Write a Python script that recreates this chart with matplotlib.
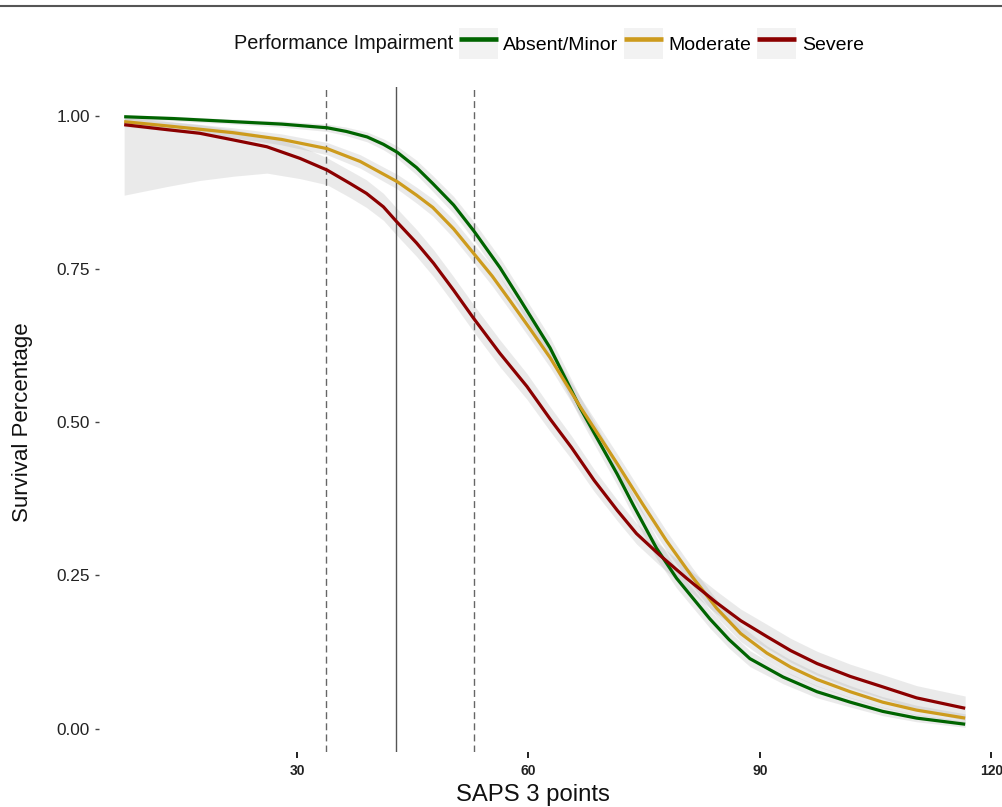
import matplotlib
matplotlib.use("Agg")
import matplotlib.pyplot as plt
from matplotlib.lines import Line2D
from matplotlib.patches import Rectangle
from matplotlib.legend_handler import HandlerTuple

plt.rcParams["font.family"] = ["Liberation Sans", "DejaVu Sans"]

# ── Data ──────────────────────────────────────────────────────────────
GROUPS = ["Absent/Minor", "Moderate", "Severe"]
COLORS = ["#006400", "#CD9B1D", "#8B0000"]

absent_x  = [7.6, 14.0, 21.7, 28.0, 33.9, 36.4, 39.1, 41.2, 43.0, 45.5, 47.6, 50.3, 52.9,
             56.3, 58.9, 62.8, 66.7, 71.5, 73.6, 76.6, 79.2, 83.5, 86.0, 88.7, 93.0,
             97.4, 101.7, 105.9, 110.3, 116.6]
absent_y  = [0.998, 0.995, 0.990, 0.986, 0.980, 0.974, 0.965, 0.953, 0.940, 0.915, 0.889,
             0.854, 0.812, 0.752, 0.700, 0.621, 0.523, 0.415, 0.364, 0.294, 0.245, 0.179,
             0.145, 0.114, 0.084, 0.060, 0.043, 0.028, 0.017, 0.007]
absent_lo = [0.994, 0.991, 0.986, 0.981, 0.974, 0.967, 0.957, 0.944, 0.930, 0.903, 0.876,
             0.840, 0.797, 0.736, 0.684, 0.604, 0.505, 0.397, 0.346, 0.277, 0.229, 0.164,
             0.131, 0.101, 0.073, 0.050, 0.035, 0.021, 0.011, 0.002]
absent_hi = [1.001, 0.999, 0.994, 0.991, 0.986, 0.981, 0.973, 0.962, 0.950, 0.927, 0.902,
             0.868, 0.827, 0.768, 0.716, 0.638, 0.541, 0.433, 0.382, 0.311, 0.261, 0.194,
             0.159, 0.127, 0.095, 0.070, 0.051, 0.035, 0.023, 0.012]

moderate_x  = [7.6, 14.0, 21.7, 28.0, 33.9, 38.2, 43.0, 45.5, 47.6, 50.3, 52.9, 55.3,
               57.6, 60.2, 62.8, 66.7, 71.5, 74.7, 77.9, 81.2, 84.4, 87.5, 90.9, 94.0,
               97.4, 101.7, 105.9, 110.3, 116.6]
moderate_y  = [0.990, 0.982, 0.972, 0.961, 0.946, 0.925, 0.892, 0.870, 0.850, 0.815, 0.775,
               0.738, 0.698, 0.652, 0.605, 0.525, 0.432, 0.368, 0.306, 0.248, 0.196, 0.155,
               0.123, 0.100, 0.080, 0.060, 0.043, 0.030, 0.017]
moderate_lo = [0.982, 0.974, 0.964, 0.952, 0.936, 0.914, 0.880, 0.857, 0.836, 0.800, 0.760,
               0.722, 0.682, 0.636, 0.589, 0.509, 0.416, 0.352, 0.290, 0.233, 0.182, 0.142,
               0.111, 0.088, 0.069, 0.050, 0.034, 0.022, 0.010]
moderate_hi = [0.998, 0.990, 0.980, 0.970, 0.956, 0.936, 0.904, 0.883, 0.864, 0.830, 0.790,
               0.754, 0.714, 0.668, 0.621, 0.541, 0.448, 0.384, 0.322, 0.263, 0.210, 0.168,
               0.135, 0.112, 0.091, 0.070, 0.052, 0.038, 0.024]

severe_x  = [7.6, 13.1, 17.4, 21.8, 26.1, 30.4, 33.9, 36.9, 39.0, 41.2, 42.9, 45.5, 47.7,
             50.3, 52.9, 56.3, 59.8, 62.8, 65.6, 68.5, 71.5, 74.0, 77.0, 80.5, 84.4, 87.5,
             90.9, 94.0, 97.4, 101.7, 105.9, 110.3, 116.6]
severe_y  = [0.985, 0.977, 0.971, 0.960, 0.949, 0.930, 0.911, 0.889, 0.873, 0.851, 0.827,
             0.792, 0.759, 0.715, 0.669, 0.612, 0.558, 0.505, 0.458, 0.405, 0.356, 0.318,
             0.283, 0.245, 0.205, 0.176, 0.150, 0.127, 0.106, 0.085, 0.068, 0.050, 0.033]
severe_lo = [0.870, 0.884, 0.894, 0.901, 0.906, 0.897, 0.887, 0.866, 0.850, 0.829, 0.805,
             0.770, 0.737, 0.693, 0.647, 0.590, 0.537, 0.485, 0.439, 0.387, 0.339, 0.301,
             0.266, 0.228, 0.187, 0.158, 0.131, 0.108, 0.087, 0.066, 0.049, 0.031, 0.013]
severe_hi = [0.996, 0.990, 0.985, 0.977, 0.967, 0.950, 0.931, 0.910, 0.895, 0.873, 0.849,
             0.814, 0.781, 0.737, 0.691, 0.634, 0.579, 0.525, 0.477, 0.423, 0.373, 0.335,
             0.300, 0.263, 0.224, 0.195, 0.170, 0.147, 0.126, 0.105, 0.088, 0.070, 0.053]

VLINES_DASHED = [33.8, 52.9]
VLINE_SOLID   = 42.8

X_TICKS = [30, 60, 90, 120]
Y_TICKS = [0.0, 0.25, 0.5, 0.75, 1.0]
Y_TICK_LABELS = ["0.00", "0.25", "0.50", "0.75", "1.00"]
# ───────────────────────────────────────────────────────────────────────

series = [
    (absent_x, absent_y, absent_lo, absent_hi),
    (moderate_x, moderate_y, moderate_lo, moderate_hi),
    (severe_x, severe_y, severe_lo, severe_hi),
]

W, H = 1003, 807
fig = plt.figure(figsize=(W / 100, H / 100), dpi=100)
ax = fig.add_axes([99 / W, 1 - 752 / H, (W - 99) / W, (752 - 87) / H])

# ribbons first, then reference lines, then curves
for (x, y, lo, hi) in series:
    ax.fill_between(x, lo, hi, color="#999999", alpha=0.2, linewidth=0, zorder=1)

for xv in VLINES_DASHED:
    ax.axvline(xv, color="#666666", lw=1.0, ls=(0, (5, 3)), zorder=2)
ax.axvline(VLINE_SOLID, color="#555555", lw=1.0, zorder=2)

for (x, y, lo, hi), c in zip(series, COLORS):
    ax.plot(x, y, color=c, lw=2.3, solid_capstyle="butt", solid_joinstyle="round", zorder=3)

ax.set_xlim(4.34, 121.5)
ax.set_ylim(-0.0383, 1.0465)
for s in ax.spines.values():
    s.set_visible(False)

ax.set_xticks(X_TICKS)
ax.set_xticklabels([str(t) for t in X_TICKS], fontsize=10, fontweight="bold", color="#222222")
ax.tick_params(axis="x", direction="out", length=4.3, width=1.4, color="#222222", pad=4)
ax.set_yticks(Y_TICKS)
ax.set_yticklabels(Y_TICK_LABELS, fontsize=12.4, color="#222222")
ax.tick_params(axis="y", direction="out", length=3.2, width=1.0, color="#444444", pad=3.5)

fig.text(23 / W, 1 - 421.7 / H, "Survival Percentage", rotation=90,
         ha="center", va="center", fontsize=16, color="#111111")
fig.text(533 / W, 1 - 800.5 / H, "SAPS 3 points", ha="center", va="baseline",
         fontsize=17.2, color="#111111")

# legend along the top, title on the left
leg_y = 1 - 43.5 / H
fig.text(453 / W, leg_y, "Performance Impairment", ha="right", va="center",
         fontsize=14.3, color="#111111")
handles = [
    (Rectangle((0, 0), 1, 1, facecolor="#f2f2f2", edgecolor="none"),
     Line2D([], [], color=c, lw=3.3, solid_capstyle="butt"))
    for c in COLORS
]
ax.legend(handles, GROUPS, handler_map={tuple: HandlerTuple(ndivide=1, pad=0)},
          loc="center left", bbox_to_anchor=(459 / W, leg_y), bbox_transform=fig.transFigure,
          ncol=3, frameon=False, fontsize=14.0, handlelength=2.0, handleheight=2.0,
          handletextpad=0.28, columnspacing=0.3, borderpad=0, borderaxespad=0)

# thin frame line along the very top of the picture
fig.add_artist(Line2D([0, 1], [1 - 5.5 / H, 1 - 5.5 / H], transform=fig.transFigure,
                      color="#555555", lw=1.5))

fig.savefig("out.png", dpi=100)
